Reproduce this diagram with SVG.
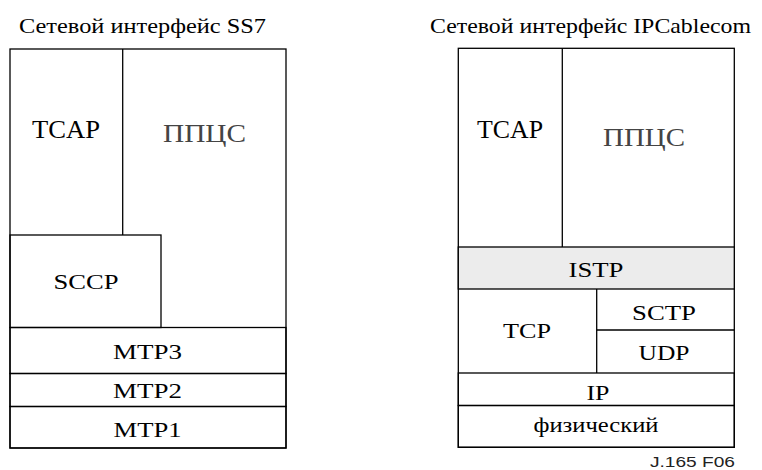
<svg xmlns="http://www.w3.org/2000/svg" width="762" height="470" viewBox="0 0 762 470">
<style>
rect,line{fill:none;stroke:#000;stroke-width:1.3}
text{font-family:"Liberation Serif","Times New Roman",serif;font-size:22px;fill:#000;text-anchor:middle}
.big{font-size:25px}
.gray{fill:#444}
.title{text-anchor:start}
.note{font-family:"Liberation Sans",Arial,sans-serif;font-size:14px;text-anchor:end;fill:#222}
</style>
<rect x="0" y="0" width="762" height="470" style="fill:#fff;stroke:none"/>
<g id="ss7">
<text class="title" x="19" y="33" textLength="247" lengthAdjust="spacingAndGlyphs">Сетевой интерфейс SS7</text>
<rect x="10" y="49" width="276" height="399"/>
<g id="ss7-tcap"><line x1="122.7" y1="49" x2="122.7" y2="235"/><text class="big" x="66" y="138" textLength="68" lengthAdjust="spacingAndGlyphs">TCAP</text></g>
<g id="ss7-isup"><text class="big gray" x="204.5" y="141.5" textLength="83" lengthAdjust="spacingAndGlyphs">ППЦС</text></g>
<g id="ss7-sccp"><rect x="10" y="235" width="151" height="92.5"/><text x="86" y="289" textLength="65" lengthAdjust="spacingAndGlyphs">SCCP</text></g>
<g id="ss7-mtp3"><rect x="10" y="327.5" width="276" height="46"/><text x="147.5" y="359" textLength="69" lengthAdjust="spacingAndGlyphs">MTP3</text></g>
<g id="ss7-mtp2"><rect x="10" y="373.5" width="276" height="33"/><text x="147.5" y="398" textLength="69" lengthAdjust="spacingAndGlyphs">MTP2</text></g>
<g id="ss7-mtp1"><rect x="10" y="406.5" width="276" height="41.5"/><text x="147.5" y="437" textLength="68" lengthAdjust="spacingAndGlyphs">MTP1</text></g>
</g>
<g id="ipc">
<text class="title" x="430" y="33" textLength="321" lengthAdjust="spacingAndGlyphs">Сетевой интерфейс IPCablecom</text>
<rect x="458.3" y="48.3" width="276" height="399"/>
<g id="ipc-tcap"><line x1="562.3" y1="48.3" x2="562.3" y2="247"/><text class="big" x="510" y="138" textLength="66" lengthAdjust="spacingAndGlyphs">TCAP</text></g>
<g id="ipc-isup"><text class="big gray" x="644" y="145.5" textLength="82" lengthAdjust="spacingAndGlyphs">ППЦС</text></g>
<g id="ipc-istp"><rect x="458.3" y="247" width="276" height="42" style="fill:#ececec"/><text x="596" y="277" textLength="55" lengthAdjust="spacingAndGlyphs">ISTP</text></g>
<g id="ipc-tcp"><line x1="596.7" y1="289" x2="596.7" y2="373"/><text x="527" y="338" textLength="48" lengthAdjust="spacingAndGlyphs">TCP</text></g>
<g id="ipc-sctp"><line x1="596.7" y1="330" x2="734.3" y2="330"/><text x="664" y="319.5" textLength="64" lengthAdjust="spacingAndGlyphs">SCTP</text></g>
<g id="ipc-udp"><text x="664" y="360" textLength="51" lengthAdjust="spacingAndGlyphs">UDP</text></g>
<g id="ipc-ip"><rect x="458.3" y="373" width="276" height="32.5"/><text x="598" y="399.5" textLength="23" lengthAdjust="spacingAndGlyphs">IP</text></g>
<g id="ipc-phy"><rect x="458.3" y="405.5" width="276" height="41.8"/><text x="596" y="432" textLength="125" lengthAdjust="spacingAndGlyphs">физический</text></g>
</g>
<text class="note" x="735" y="467" textLength="85" lengthAdjust="spacingAndGlyphs">J.165  F06</text>
<g id="connectors"/>
</svg>
